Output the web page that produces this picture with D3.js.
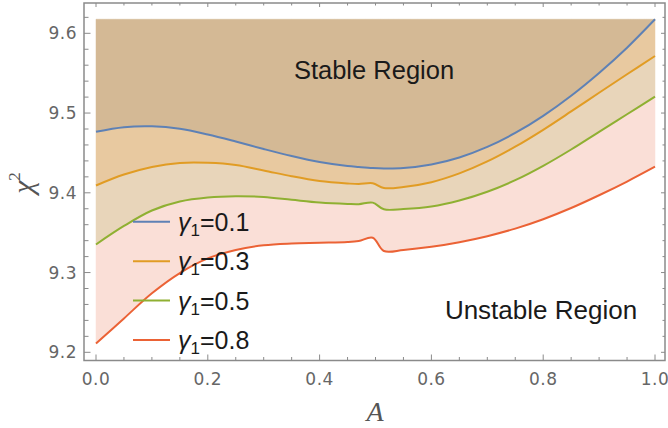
<!DOCTYPE html>
<html><head><meta charset="utf-8">
<script src="https://cdn.jsdelivr.net/npm/d3@7"></script>
<style>body{margin:0;background:#fff}svg{display:block}</style>
</head><body><svg id="c" width="668" height="428"></svg>
<script>
const A = [0,0.05,0.1,0.15,0.2,0.25,0.3,0.35,0.4,0.45,0.47,0.495,0.515,0.55,0.6,0.65,0.7,0.75,0.8,0.85,0.9,0.95,1.0];
const chiG01 = [9.4766,9.4823,9.4834,9.4803,9.4731,9.4643,9.4549,9.4461,9.4386,9.4336,9.4324,9.4311,9.4306,9.4311,9.4355,9.4443,9.4575,9.4750,9.4965,9.5217,9.5503,9.5820,9.6176];
const chiG03 = [9.4092,9.4229,9.4324,9.4374,9.4376,9.4349,9.4280,9.4207,9.4148,9.4117,9.4110,9.4120,9.4060,9.4073,9.4133,9.4243,9.4393,9.4578,9.4790,9.5020,9.5255,9.5487,9.5715];
const chiG05 = [9.3352,9.3584,9.3778,9.3891,9.3941,9.3957,9.3947,9.3912,9.3878,9.3860,9.3857,9.3877,9.3793,9.3797,9.3828,9.3903,9.4013,9.4158,9.4338,9.4543,9.4765,9.4985,9.5205];
const chiG08 = [9.2110,9.2425,9.2740,9.2994,9.3177,9.3283,9.3342,9.3364,9.3373,9.3383,9.3396,9.3436,9.3270,9.3283,9.3323,9.3381,9.3456,9.3551,9.3669,9.3809,9.3969,9.4141,9.4327];
const seriesNames = ["0.1","0.3","0.5","0.8"];
const seriesColors = ["#5E81B5","#E19C24","#8FB032","#EB6235"];
const bandColors = ["#D4B995","#E8C9A0","#E8D5BA","#FADFD7"];
const xTicks = [0,0.2,0.4,0.6,0.8,1.0];
const yTicks = [9.2,9.3,9.4,9.5,9.6];

const svg = d3.select("#c");
const x = d3.scaleLinear().domain([0,1]).range([96,655]);
const y = d3.scaleLinear().domain([9.2,9.6]).range([352.3,33.3]);
const fx0 = x.invert(84), fx1 = x.invert(665), fy0 = y.invert(360.5), fy1 = y.invert(3);
const series = [chiG01, chiG03, chiG05, chiG08];
const topV = d3.max(series.flat());
const curve = d3.curveCatmullRom.alpha(0.5);

// bands
const bounds = [A.map(()=>topV), ...series];
for (let i = 0; i < 4; i++) {
  const up = bounds[i], lo = bounds[i+1];
  const area = d3.area().curve(curve).x((d,j)=>x(A[j])).y0((d,j)=>y(lo[j])).y1((d,j)=>y(up[j]));
  svg.append("path").attr("d", area(A)).attr("fill", bandColors[i]).attr("stroke", bandColors[i]).attr("stroke-width",0.5);
}
// lines
series.forEach((s,i)=>{
  const line = d3.line().curve(curve).x((d,j)=>x(A[j])).y(d=>y(d));
  svg.append("path").attr("d", line(s)).attr("fill","none").attr("stroke", seriesColors[i]).attr("stroke-width",2);
});

// frame
const fc = "#8a8a8a";
svg.append("rect").attr("x",x(fx0)).attr("y",y(fy1)).attr("width",x(fx1)-x(fx0)).attr("height",y(fy0)-y(fy1))
  .attr("fill","none").attr("stroke",fc).attr("stroke-width",1.5);
const g = svg.append("g").attr("stroke",fc).attr("stroke-width",1);
const xMinor = d3.range(0,1.0001,0.05);
xMinor.forEach(v=>{
  const major = xTicks.some(t=>Math.abs(t-v)<1e-6);
  const L = major?6:3.5;
  g.append("line").attr("x1",x(v)).attr("x2",x(v)).attr("y1",y(fy0)).attr("y2",y(fy0)-L);
  g.append("line").attr("x1",x(v)).attr("x2",x(v)).attr("y1",y(fy1)).attr("y2",y(fy1)+(major?4:2.5));
});
const yMinor = d3.range(9.2,9.6201,0.02);
yMinor.forEach(v=>{
  if (v>fy1) return;
  const major = yTicks.some(t=>Math.abs(t-v)<1e-6);
  const L = major?6.5:4.5;
  g.append("line").attr("x1",x(fx0)).attr("x2",x(fx0)+L).attr("y1",y(v)).attr("y2",y(v));
  g.append("line").attr("x1",x(fx1)).attr("x2",x(fx1)-(major?4:2.5)).attr("y1",y(v)).attr("y2",y(v));
});
const tf = "'DejaVu Sans', sans-serif";
xTicks.forEach(v=>{
  svg.append("text").attr("x",x(v)).attr("y",385).attr("text-anchor","middle")
    .attr("font-family",tf).attr("font-size",17).attr("fill","#666").attr("letter-spacing",0.5).text(d3.format(".1f")(v));
});
yTicks.forEach(v=>{
  svg.append("text").attr("x",77).attr("y",y(v)+6).attr("text-anchor","end")
    .attr("font-family",tf).attr("font-size",17).attr("fill","#666").attr("letter-spacing",0.5).text(d3.format(".1f")(v));
});
// axis titles
svg.append("text").attr("x",375).attr("y",421).attr("text-anchor","middle")
  .attr("font-family","'Liberation Serif', serif").attr("font-style","italic").attr("font-size",28).attr("fill","#555").text("A");
const yt = svg.append("text").attr("transform","translate(33,183) rotate(-90)").attr("text-anchor","middle")
  .attr("font-family","'Liberation Serif', serif").attr("font-size",30).attr("fill","#555");
yt.append("tspan").attr("font-style","italic").text("χ");
yt.append("tspan").attr("font-size",17).attr("dy",-13).text("2");

// region labels
svg.append("text").attr("x",374).attr("y",79).attr("text-anchor","middle")
  .attr("font-family","'Liberation Sans', Arial, sans-serif").attr("font-size",25.5).attr("fill","#1a1a1a").text("Stable Region");
svg.append("text").attr("x",541).attr("y",319).attr("text-anchor","middle")
  .attr("font-family","'Liberation Sans', Arial, sans-serif").attr("font-size",26).attr("fill","#1a1a1a").text("Unstable Region");

// legend
const legY = [221.7,261.2,300.6,340];
seriesNames.forEach((n,i)=>{
  svg.append("line").attr("x1",133).attr("x2",170).attr("y1",legY[i]).attr("y2",legY[i])
    .attr("stroke",seriesColors[i]).attr("stroke-width",2);
  const t = svg.append("text").attr("x",178).attr("y",legY[i]+9)
    .attr("font-family","'Liberation Sans', Arial, sans-serif").attr("font-size",25).attr("fill","#1a1a1a");
  t.append("tspan").attr("font-style","italic").text("γ");
  t.append("tspan").attr("font-size",17).attr("dy",5).text("1");
  t.append("tspan").attr("dy",-5).text("=" + n);
});
</script></body></html>
